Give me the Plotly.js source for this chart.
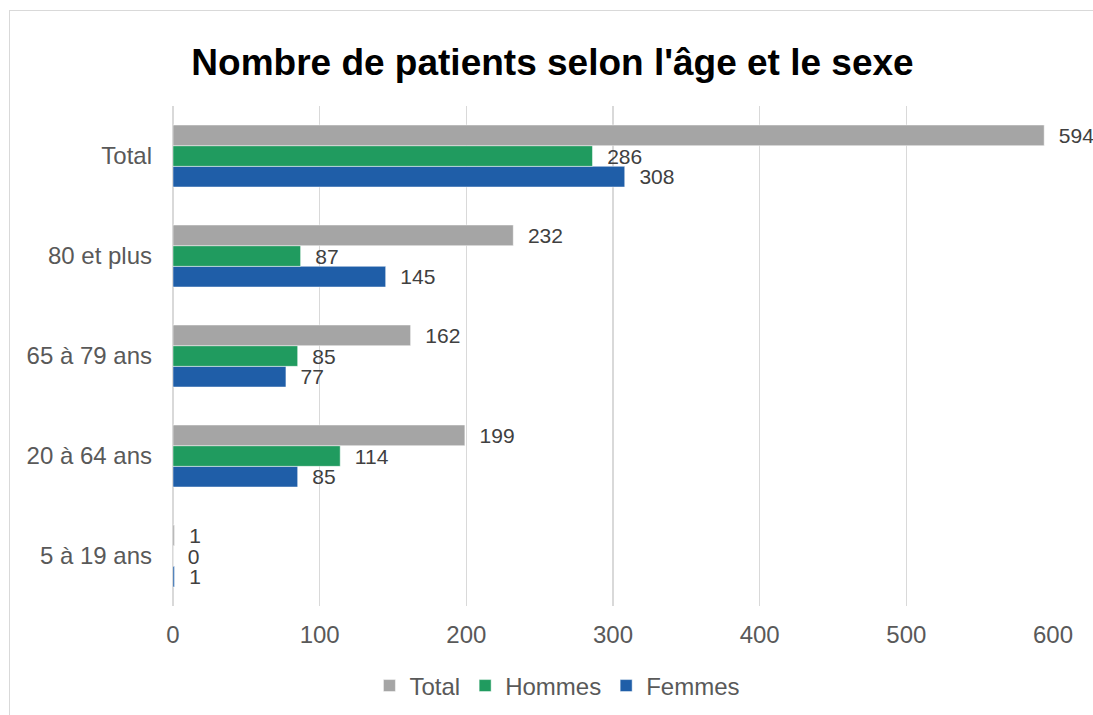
<!DOCTYPE html>
<html>
<head>
<meta charset="utf-8">
<script src="https://cdn.plot.ly/plotly-3.0.1.min.js"></script>
<style>
  html, body { margin: 0; padding: 0; background: #fff; }
  #chart { width: 1093px; height: 715px; }
  #frame { position: absolute; left: 9px; top: 10px; width: 1100px; height: 720px;
           border: 1.5px solid #d9d9d9; pointer-events: none; box-sizing: border-box; }
</style>
</head>
<body>
<div id="chart"></div>
<div id="frame"></div>
<script>
const categories = ["5 à 19 ans", "20 à 64 ans", "65 à 79 ans", "80 et plus", "Total"];
const femmes = [1, 85, 77, 145, 308];
const hommes = [0, 114, 85, 87, 286];
const total = [1, 199, 162, 232, 594];
const xTicks = [0, 100, 200, 300, 400, 500, 600];

const labelFont = { family: "Liberation Sans, Arial, sans-serif", size: 21, color: "#404040" };
function series(name, values, color) {
  return {
    type: "bar", orientation: "h", name: name,
    y: categories, x: values,
    marker: { color: color, line: { color: "rgba(255,255,255,0.6)", width: 0.8 } },
    text: values.map(String),
    texttemplate: "\u00a0\u00a0%{x}",
    textposition: "outside",
    constraintext: "none",
    cliponaxis: false,
    outsidetextfont: labelFont,
    hoverinfo: "x+name"
  };
}

const data = [
  series("Femmes", femmes, "#1f5ea8"),
  series("Hommes", hommes, "#209b5f"),
  series("Total", total, "#a5a5a5")
];

const layout = {
  width: 1093, height: 715,
  paper_bgcolor: "#ffffff", plot_bgcolor: "#ffffff",
  margin: { l: 173, r: 40, t: 106, b: 109 },
  barmode: "group", bargap: 0.38, bargroupgap: 0,
  title: {
    text: "<b>Nombre de patients selon l'âge et le sexe</b>",
    font: { family: "Liberation Sans, Arial, sans-serif", size: 37, color: "#000000" },
    xref: "container", x: 0.5055, xanchor: "center",
    yref: "container", y: 0.913, yanchor: "middle"
  },
  xaxis: {
    range: [0, 600], tickvals: xTicks, ticktext: xTicks.map(String),
    showgrid: true, gridcolor: "#d9d9d9", gridwidth: 1.3,
    zeroline: true, zerolinecolor: "#d9d9d9", zerolinewidth: 1.3,
    showline: false, ticks: "", ticklabelstandoff: 12,
    tickfont: { family: "Liberation Sans, Arial, sans-serif", size: 24, color: "#595959" },
    fixedrange: true
  },
  yaxis: {
    type: "category", categoryorder: "array", categoryarray: categories,
    range: [-0.5, 4.5],
    showgrid: false, zeroline: false, showline: false, ticks: "",
    ticklabelstandoff: 20,
    tickfont: { family: "Liberation Sans, Arial, sans-serif", size: 24, color: "#595959" },
    fixedrange: true
  },
  showlegend: true,
  legend: {
    orientation: "h", traceorder: "reversed",
    xref: "container", x: 0.51, xanchor: "center",
    yref: "container", y: 0.0406, yanchor: "middle",
    font: { family: "Liberation Sans, Arial, sans-serif", size: 24, color: "#595959" },
    itemwidth: 30, bgcolor: "rgba(0,0,0,0)"
  }
};

Plotly.newPlot("chart", data, layout, { displayModeBar: false, staticPlot: true });
</script>
</body>
</html>
